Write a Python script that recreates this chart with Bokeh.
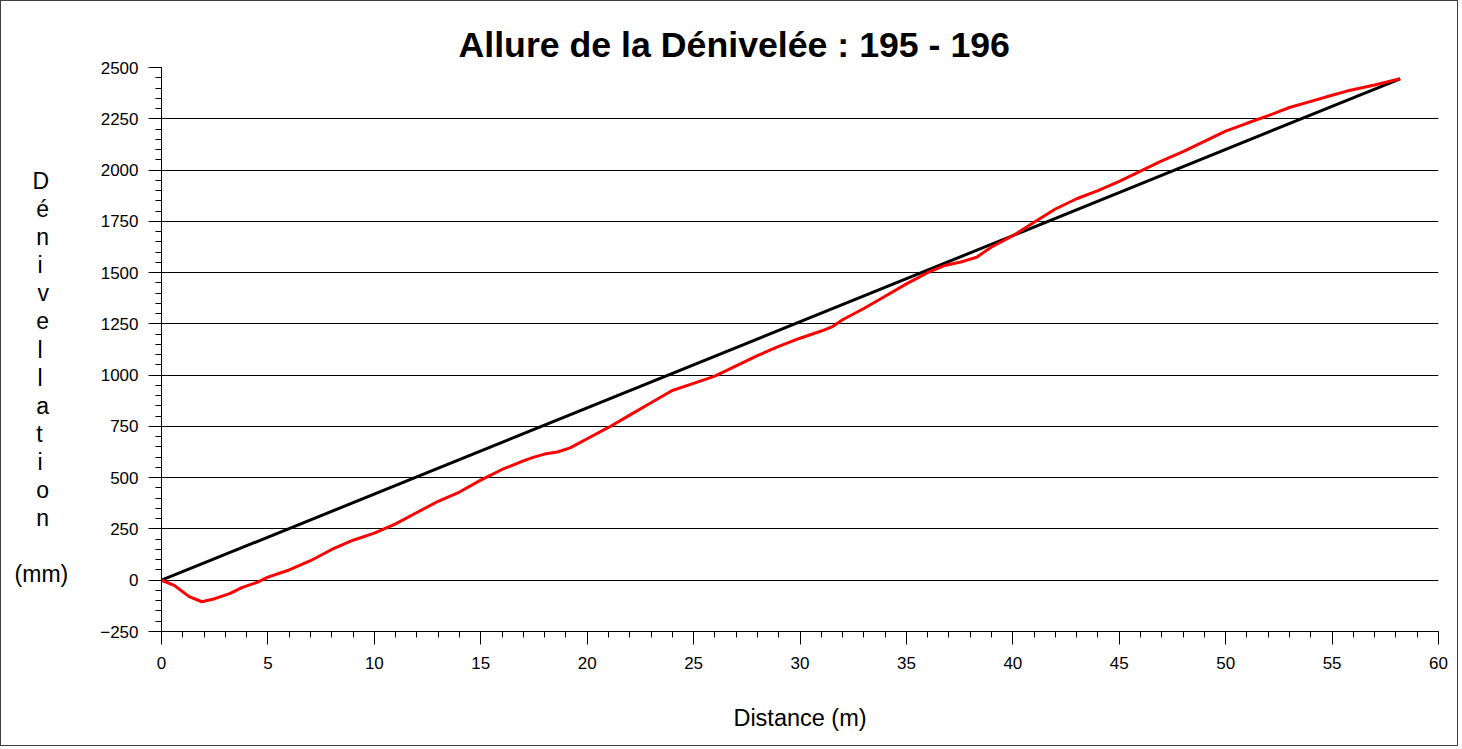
from bokeh.plotting import figure
from bokeh.models import Range1d, SingleIntervalTicker
from bokeh.embed import file_html
from bokeh.resources import INLINE

# ---- data ----
distance = [0, 0.6, 1.3, 1.9, 2.5, 3.2, 3.8, 4.5, 5, 6, 7, 8, 9, 10, 11, 12, 13, 14, 15,
            16, 17, 17.5, 18, 18.6, 19.2, 20, 21, 22, 23, 24, 25, 26, 27, 28, 29, 30, 31,
            31.5, 32, 33, 34, 35, 36, 36.8, 37.5, 38.3, 39, 40, 41, 42, 43, 44, 45, 46,
            47, 48, 49, 50, 51, 52, 53, 54, 55, 55.7, 57, 58.2]
denivellation = [0, -25, -80, -105, -90, -65, -35, -10, 15, 50, 95, 150, 195, 230, 275, 330,
                 385, 430, 488, 540, 582, 600, 615, 625, 645, 690, 745, 805, 865, 925, 960,
                 995, 1045, 1095, 1140, 1180, 1215, 1235, 1270, 1325, 1385, 1445, 1500, 1535,
                 1550, 1575, 1625, 1680, 1745, 1810, 1860, 1900, 1945, 1995, 2045, 2090,
                 2140, 2190, 2228, 2265, 2305, 2335, 2365, 2385, 2415, 2445]
ref_distance = [0, 58.2]
ref_level = [0, 2445]

title_text = "Allure de la Dénivelée : 195 - 196"
x_label = "Distance (m)"
y_label_letters = list("Dénivellation")
y_unit = "(mm)"

FONT = "Liberation Sans"

p = figure(width=1458, height=746, output_backend="svg", toolbar_location=None,
           x_range=Range1d(0, 60), y_range=Range1d(-250, 2500),
           min_border_left=160, min_border_right=21, min_border_top=66, min_border_bottom=116)
p.styles = {"border": "1px solid #404040"}
p.outline_line_color = None
p.background_fill_color = "white"
p.border_fill_color = "white"

p.title.text = title_text
p.title.text_font = FONT
p.title.text_font_size = "35.7px"
p.title.text_font_style = "bold"
p.title.text_color = "black"
p.title.align = "left"
p.title.offset = 297
p.title.standoff = 5

p.xgrid.grid_line_color = None
p.ygrid.grid_line_color = "black"
p.ygrid.grid_line_width = 1

p.xaxis.ticker = SingleIntervalTicker(interval=5, num_minor_ticks=5)
p.yaxis.ticker = SingleIntervalTicker(interval=250, num_minor_ticks=5)
for ax in (p.xaxis, p.yaxis):
    ax.axis_line_color = "black"
    ax.major_tick_line_color = "black"
    ax.minor_tick_line_color = "black"
    ax.major_tick_out = 13
    ax.major_tick_in = 0
    ax.minor_tick_out = 6
    ax.minor_tick_in = 0
    ax.major_label_text_font = FONT
    ax.major_label_text_font_size = "17px"
    ax.major_label_text_color = "black"
p.yaxis.major_label_standoff = 10
p.xaxis.major_label_standoff = 12

p.xaxis.axis_label = x_label
p.xaxis.axis_label_text_font = FONT
p.xaxis.axis_label_text_font_size = "23.5px"
p.xaxis.axis_label_text_font_style = "normal"
p.xaxis.axis_label_text_color = "black"
p.xaxis.axis_label_standoff = 33

# stacked vertical label (lines are right-aligned, so pad to visually centre the letters)
blank = "\u00a0"
narrow = set("iltI")
lines = [blank, blank]
for ch in y_label_letters:
    lines.append(ch + blank * (4 if ch in narrow else 3))
lines += [blank, y_unit]
p.yaxis.axis_label = "\n".join(lines)
p.yaxis.axis_label_text_font = FONT
p.yaxis.axis_label_text_font_size = "23px"
p.yaxis.axis_label_text_font_style = "normal"
p.yaxis.axis_label_text_color = "black"
p.yaxis.axis_label_text_line_height = 1.08
p.yaxis.axis_label_standoff = 29
p.yaxis.axis_label_orientation = "horizontal"
p.yaxis.axis_label_text_align = "center"

p.line(ref_distance, ref_level, line_color="black", line_width=3)
p.line(distance, denivellation, line_color="#ff0000", line_width=3)

open("out.html", "w").write(file_html(p, INLINE))
